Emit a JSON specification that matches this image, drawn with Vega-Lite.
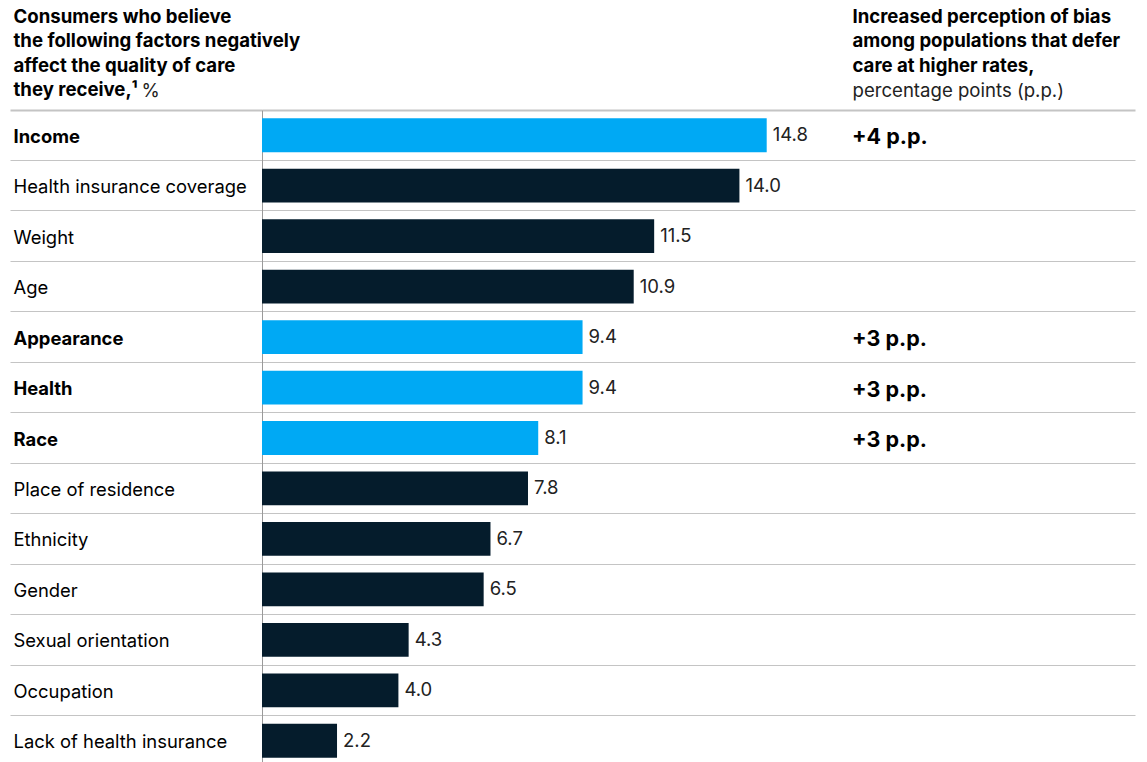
{
  "$schema": "https://vega.github.io/schema/vega-lite/v6.json",
  "autosize": "none",
  "padding": {"left": 262, "top": 110, "right": 12, "bottom": 0},
  "width": 873,
  "height": 656,
  "background": "white",
  "config": {"font": "Inter", "view": {"stroke": null}},
  "data": {
    "values": [
      {"factor": "Income", "value": 14.8, "hl": true, "pp": "+4 p.p."},
      {"factor": "Health insurance coverage", "value": 14.0, "hl": false, "pp": ""},
      {"factor": "Weight", "value": 11.5, "hl": false, "pp": ""},
      {"factor": "Age", "value": 10.9, "hl": false, "pp": ""},
      {"factor": "Appearance", "value": 9.4, "hl": true, "pp": "+3 p.p."},
      {"factor": "Health", "value": 9.4, "hl": true, "pp": "+3 p.p."},
      {"factor": "Race", "value": 8.1, "hl": true, "pp": "+3 p.p."},
      {"factor": "Place of residence", "value": 7.8, "hl": false, "pp": ""},
      {"factor": "Ethnicity", "value": 6.7, "hl": false, "pp": ""},
      {"factor": "Gender", "value": 6.5, "hl": false, "pp": ""},
      {"factor": "Sexual orientation", "value": 4.3, "hl": false, "pp": ""},
      {"factor": "Occupation", "value": 4.0, "hl": false, "pp": ""},
      {"factor": "Lack of health insurance", "value": 2.2, "hl": false, "pp": ""}
    ]
  },
  "resolve": {"axis": {"x": "independent", "y": "independent"}},
  "layer": [
    {
      "mark": {"type": "bar", "height": {"band": 0.67}},
      "encoding": {
        "y": {
          "field": "factor",
          "type": "nominal",
          "sort": null,
          "scale": {"paddingInner": 0, "paddingOuter": 0},
          "axis": {
            "orient": "left",
            "title": ["Consumers who believe", "the following factors negatively", "affect the quality of care", "they receive,¹"],
            "titleAngle": 0,
            "titleAlign": "left",
            "titleBaseline": "alphabetic",
            "titleX": -249,
            "titleY": -88,
            "titleFontSize": 18.6,
            "titleFontWeight": "bold",
            "titleLineHeight": 24.5,
            "titleColor": "#000000",
            "bandPosition": 0,
            "ticks": true,
            "tickSize": 252,
            "tickColor": "#c4c4c4",
            "tickWidth": {"condition": {"test": "datum.value === 'Income'", "value": 2}, "value": 1},
            "grid": true,
            "gridColor": "#c4c4c4",
            "gridWidth": {"condition": {"test": "datum.value === 'Income'", "value": 2}, "value": 1},
            "labelOffset": 1.5,
            "labelAlign": "left",
            "labelPadding": -3,
            "labelBaseline": "middle",
            "labelFontSize": 18.4,
            "labelColor": "#000000",
            "labelLimit": 0,
            "labelFontWeight": {"condition": {"test": "indexof(['Income','Appearance','Health','Race'], datum.value) >= 0", "value": "bold"}, "value": "normal"},
            "domainColor": "#9a9a9a"
          }
        },
        "x": {
          "field": "value",
          "type": "quantitative",
          "scale": {"domain": [0, 25.6], "nice": false, "zero": true},
          "axis": {
            "orient": "top",
            "labels": false,
            "ticks": false,
            "domain": false,
            "grid": false,
            "title": ["Increased perception of bias", "among populations that defer", "care at higher rates,"],
            "titleX": 590,
            "titleY": -88,
            "titleAlign": "left",
            "titleBaseline": "alphabetic",
            "titleAngle": 0,
            "titleFontWeight": "bold",
            "titleFontSize": 18.6,
            "titleLineHeight": 24.5,
            "titleColor": "#000000"
          }
        },
        "color": {"condition": {"test": "datum.hl", "value": "#00A9F4"}, "value": "#051C2C"}
      }
    },
    {
      "mark": {"type": "text", "align": "left", "baseline": "middle", "dx": 6, "fontSize": 18.5, "color": "#222222"},
      "encoding": {
        "y": {
          "field": "factor",
          "type": "nominal",
          "sort": null,
          "axis": {
            "orient": "right",
            "labels": false,
            "ticks": false,
            "domain": false,
            "grid": false,
            "title": "%",
            "titleX": -994,
            "titleY": -14,
            "titleAlign": "left",
            "titleBaseline": "alphabetic",
            "titleAngle": 0,
            "titleFontWeight": "normal",
            "titleFontSize": 18.6,
            "titleColor": "#222222"
          }
        },
        "x": {
          "field": "value",
          "type": "quantitative",
          "axis": {
            "orient": "bottom",
            "labels": false,
            "ticks": false,
            "domain": false,
            "grid": false,
            "title": "percentage points (p.p.)",
            "titleX": 590,
            "titleY": -669.5,
            "titleAlign": "left",
            "titleBaseline": "alphabetic",
            "titleAngle": 0,
            "titleFontWeight": "normal",
            "titleFontSize": 18.6,
            "titleColor": "#222222"
          }
        },
        "text": {"field": "value", "type": "quantitative", "format": ".1f"}
      }
    },
    {
      "mark": {"type": "text", "align": "left", "baseline": "middle", "dy": 3, "fontSize": 21.5, "fontWeight": "bold", "color": "#000000"},
      "encoding": {
        "y": {"field": "factor", "type": "nominal", "sort": null, "axis": null},
        "x": {"datum": 17.3, "type": "quantitative", "axis": null},
        "text": {"field": "pp"}
      }
    }
  ]
}
